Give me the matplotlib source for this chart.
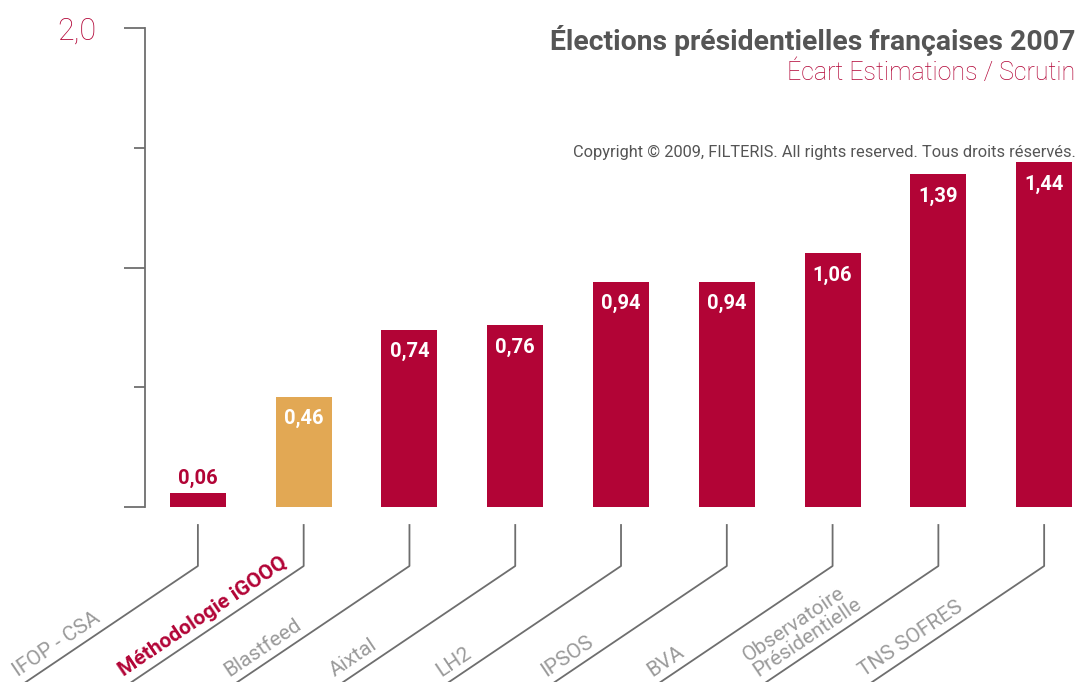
import numpy as np
import matplotlib
matplotlib.use("Agg")
import matplotlib.pyplot as plt
from matplotlib.lines import Line2D
from matplotlib.transforms import IdentityTransform

# ---- data ----
categories = ["IFOP - CSA", "Méthodologie iGOOQ", "Blastfeed", "Aixtal", "LH2",
              "IPSOS", "BVA", "Observatoire\nPrésidentielle", "TNS SOFRES"]
values = [0.06, 0.46, 0.74, 0.76, 0.94, 0.94, 1.06, 1.39, 1.44]
value_labels = ["0,06", "0,46", "0,74", "0,76", "0,94", "0,94", "1,06", "1,39", "1,44"]
highlight = "Méthodologie iGOOQ"
major_ticks = [0.0, 1.0, 2.0]
minor_ticks = [0.5, 1.5]
top_label = "2,0"

title = "Élections présidentielles françaises 2007"
subtitle = "Écart Estimations / Scrutin"
copyright_txt = "Copyright © 2009, FILTERIS. All rights reserved. Tous droits réservés."

# ---- style ----
CRIMSON = "#B20436"
ORANGE = "#E2A854"
GRAY_AX = "#6e6e6e"
GRAY_TXT = "#9a9a9a"
TITLE_GRAY = "#555555"
FONT = ["Roboto", "DejaVu Sans"]
plt.rcParams["font.family"] = FONT

W, H = 1078, 682
fig = plt.figure(figsize=(W / 100, H / 100), dpi=100)
ax = fig.add_axes([145 / W, 175 / H, 933 / W, 479 / H])
ax.set_xlim(-0.5, 8.32)
ax.set_ylim(0, 2.0)

x = np.arange(len(categories))
colors = [ORANGE if c == highlight else CRIMSON for c in categories]
bars = ax.bar(x, values, width=0.53, color=colors, zorder=2)

# value labels
for b, v, lab in zip(bars, values, value_labels):
    xc = b.get_x() + b.get_width() / 2
    if v < 0.15:
        ax.annotate(lab, (xc, v), xytext=(0, 3), textcoords="offset points",
                    ha="center", va="bottom", color=CRIMSON,
                    fontsize=14.5, fontweight="bold")
    else:
        ax.annotate(lab, (xc, v), xytext=(0, -9), textcoords="offset points",
                    ha="center", va="top", color="white",
                    fontsize=14.5, fontweight="bold")

# axes styling
for s in ["top", "right", "bottom"]:
    ax.spines[s].set_visible(False)
ax.spines["left"].set_color(GRAY_AX)
ax.spines["left"].set_linewidth(1.3)
ax.set_xticks([])
ax.set_yticks(major_ticks)
ax.set_yticks(minor_ticks, minor=True)
ax.set_yticklabels(["", "", top_label])
ax.tick_params(axis="y", which="major", length=15, width=1.3, color=GRAY_AX,
               pad=20, labelsize=22, labelcolor=CRIMSON)
ax.tick_params(axis="y", which="minor", length=8, width=1.3, color=GRAY_AX)
for t in ax.get_yticklabels():
    t.set_fontweight("light")

# leader lines and category labels
ang = np.deg2rad(34)
y_top = H - 525   # pixel from bottom, start of vertical segment
y_elb = H - 566   # elbow
for i, cat in enumerate(categories):
    xp = ax.transData.transform((i, 0))[0]
    drop = y_elb + 5
    x_end = xp - drop / np.tan(ang)
    line = Line2D([xp, xp, x_end], [y_top, y_elb, -5], color=GRAY_AX, lw=1.3,
                  transform=IdentityTransform())
    fig.add_artist(line)
    is_hl = cat == highlight
    fig.text((xp - 178) / W, 2 / H, cat, rotation=34, rotation_mode="anchor",
             ha="left", va="bottom", fontsize=15, linespacing=0.95,
             color=CRIMSON if is_hl else GRAY_TXT,
             fontweight="bold" if is_hl else "normal")

# titles
fig.text(1075 / W, 1 - 40 / H, title, ha="right", va="center",
         fontsize=20.4, fontweight="bold", color=TITLE_GRAY)
fig.text(1075 / W, 1 - 73 / H, subtitle, ha="right", va="center",
         fontsize=18, fontweight="light", color=CRIMSON)
fig.text(1076 / W, 1 - 152 / H, copyright_txt, ha="right", va="center",
         fontsize=11.8, color="#555555")

fig.savefig("out.png", dpi=100)
